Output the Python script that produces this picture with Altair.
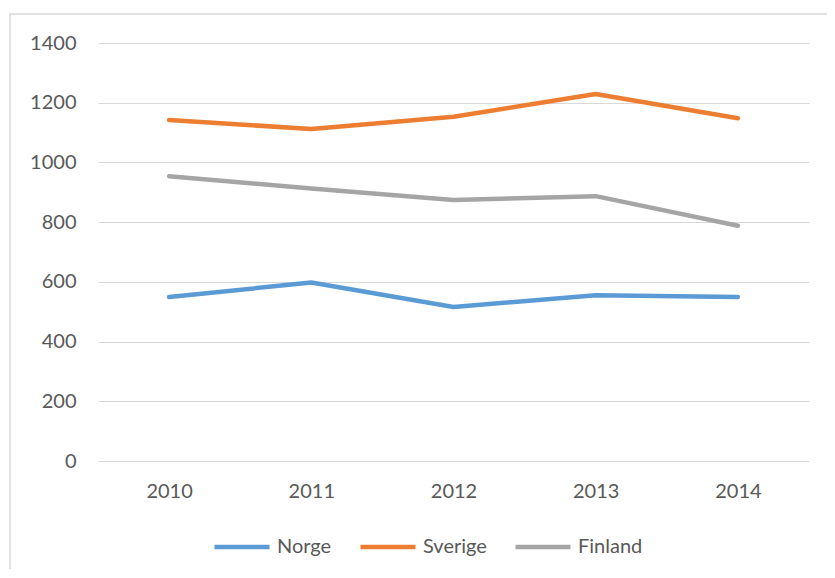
import altair as alt
import pandas as pd

years = ["2010", "2011", "2012", "2013", "2014"]
norge = [549, 598, 516, 555, 549]
sverige = [1142, 1112, 1153, 1229, 1148]
finland = [954, 913, 874, 887, 788]
series = ["Norge", "Sverige", "Finland"]
colors = ["#5B9BD5", "#ED7D31", "#A5A5A5"]

rows = []
for name, vals in zip(series, [norge, sverige, finland]):
    for y, v in zip(years, vals):
        rows.append({"year": y, "value": v, "series": name})
df = pd.DataFrame(rows)

font = "Lato"
fs = 20

border = alt.Chart(pd.DataFrame({"a": [0]})).mark_rect(
    fillOpacity=0, stroke="#d9d9d9", strokeWidth=1.5
).encode(
    x=alt.value(-88), x2=alt.value(745), y=alt.value(-29), y2=alt.value(545)
)

lines = alt.Chart(df).mark_line(strokeWidth=4.5, strokeCap="round", strokeJoin="round").encode(
    x=alt.X("year:O", sort=years, scale=alt.Scale(type="point", padding=0.5),
            axis=alt.Axis(title=None, labelAngle=0, domain=False, ticks=False, grid=False,
                          labelPadding=20, labelFontSize=fs, labelColor="#595959", labelFont=font)),
    y=alt.Y("value:Q", scale=alt.Scale(domain=[0, 1400], nice=False),
            axis=alt.Axis(title=None, values=[0, 200, 400, 600, 800, 1000, 1200, 1400],
                          format="d", domain=False, ticks=False, labelPadding=22, labelFontSize=fs,
                          labelColor="#595959", labelFont=font, gridColor="#d9d9d9",
                          gridWidth=1.2)),
    color=alt.Color("series:N", sort=series,
                    scale=alt.Scale(domain=series, range=colors),
                    legend=alt.Legend(title=None, orient="none", direction="horizontal",
                                      legendX=114, legendY=474, symbolType="stroke",
                                      symbolSize=3025, symbolStrokeWidth=4.5,
                                      labelFontSize=fs, labelColor="#595959", labelFont=font,
                                      labelOffset=5, columnPadding=19)),
)

chart = alt.layer(border, lines).properties(
    width=711, height=418,
    autosize=alt.AutoSizeParams(type="none"),
    padding={"left": 90, "top": 35, "right": 18, "bottom": 108},
    view=alt.ViewBackground(stroke="transparent", strokeWidth=0),
).configure_view(stroke="transparent", strokeWidth=0).configure(background="white")

chart.save("out.html", embed_options={"renderer": "svg", "actions": False})
